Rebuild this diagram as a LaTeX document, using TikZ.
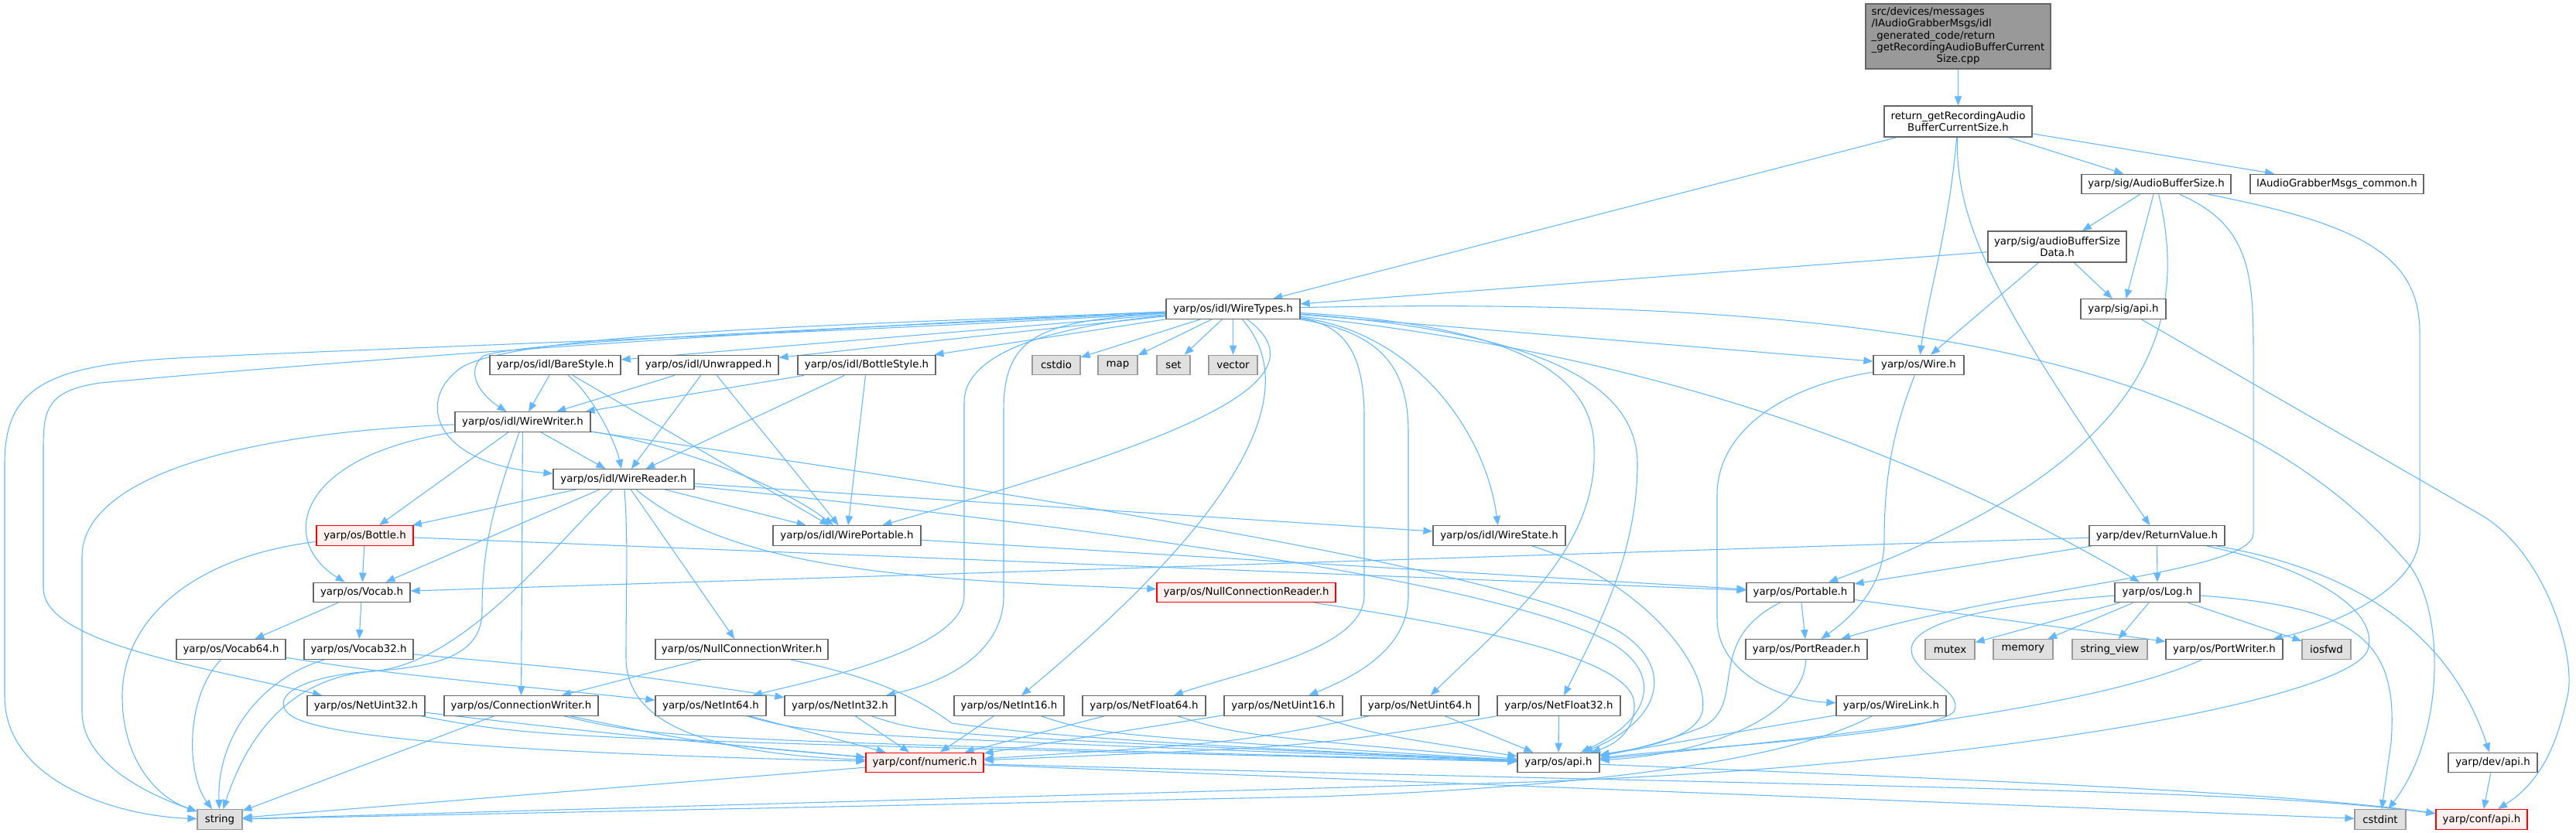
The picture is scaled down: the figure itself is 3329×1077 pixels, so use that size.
\documentclass[tikz,border=0pt]{standalone}
\usepackage{fontspec}
\setmainfont{DejaVu Sans}
\usetikzlibrary{arrows.meta}
\definecolor{edgec}{HTML}{63B8FF}
\definecolor{bord}{HTML}{666666}
\definecolor{extb}{HTML}{999999}
\definecolor{extf}{HTML}{E0E0E0}
\definecolor{redf}{HTML}{FFF0F0}
\definecolor{topf}{HTML}{999999}
\pgfdeclarelayer{back}
\pgfdeclarelayer{edges}
\pgfsetlayers{back,edges,main}
\newcommand{\nodefont}{\fontsize{10pt}{11.5pt}\selectfont}
\tikzset{
  nb/.style={draw=bord, fill=white, line width=0.9pt, inner sep=0pt, font=\nodefont, minimum height=19.2pt, align=center},
  extn/.style={nb, draw=extb, fill=extf},
  trn/.style={nb, draw=red, fill=redf},
  topn/.style={nb, fill=topf},
  bw/.style={minimum width=#1*0.75pt},
  bh/.style={minimum height=#1*0.75pt},
  lnk/.style={draw=edgec, line width=0.8pt, -{Triangle[length=9pt,width=7pt]}}
}
\begin{document}
\begin{tikzpicture}[x=0.75pt, y=-0.75pt]
\begin{pgfonlayer}{back}
\fill[white] (0,0) rectangle (3329,1077);
\end{pgfonlayer}
\useasboundingbox (0,0) rectangle (3329,1077);
% nodes
\node[topn, bw=239, bh=84] (top) at (2530.5,47) {\begin{tabular}{@{}l@{}}src/devices/messages\\/IAudioGrabberMsgs/idl\\\_generated\_code/return\\\_getRecordingAudioBufferCurrent\\\multicolumn{1}{@{}c@{}}{Size.cpp}\end{tabular}};
\node[nb, bw=191, bh=40] (ret) at (2530.5,157) {return\_getRecordingAudio\\BufferCurrentSize.h};
\node[nb, bw=193] (abs) at (2786.5,238) {yarp/sig/AudioBufferSize.h};
\node[nb, bw=224] (iagc) at (3020,238) {IAudioGrabberMsgs\_common.h};
\node[nb, bw=179, bh=40] (absd) at (2658.5,319) {yarp/sig/audioBufferSize\\Data.h};
\node[nb, bw=173] (wt) at (1593.5,399.5) {yarp/os/idl/WireTypes.h};
\node[nb, bw=110] (sigapi) at (2744,399.5) {yarp/sig/api.h};
\node[nb, bw=169] (bare) at (717.5,472) {yarp/os/idl/BareStyle.h};
\node[nb, bw=181] (unw) at (915.5,472) {yarp/os/idl/Unwrapped.h};
\node[nb, bw=178] (bstyle) at (1120,472) {yarp/os/idl/BottleStyle.h};
\node[extn, bw=62] (cstdio) at (1365,472) {cstdio};
\node[extn, bw=51] (map) at (1444.5,472) {map};
\node[extn, bw=43] (set) at (1516.5,472) {set};
\node[extn, bw=63] (vector) at (1593.5,472) {vector};
\node[nb, bw=117] (wire) at (2479.5,472) {yarp/os/Wire.h};
\node[nb, bw=175] (ww) at (675.5,545.5) {yarp/os/idl/WireWriter.h};
\node[nb, bw=182] (wr) at (806,619.5) {yarp/os/idl/WireReader.h};
\node[trn, bw=125] (bottle) at (471.5,692.5) {yarp/os/Bottle.h};
\node[nb, bw=191] (wp) at (1094.5,692.5) {yarp/os/idl/WirePortable.h};
\node[nb, bw=171] (ws) at (1937.5,692.5) {yarp/os/idl/WireState.h};
\node[nb, bw=175] (rv) at (2787.5,692.5) {yarp/dev/ReturnValue.h};
\node[nb, bw=125] (vocab) at (467.5,766) {yarp/os/Vocab.h};
\node[trn, bw=231] (ncr) at (1610.5,766) {yarp/os/NullConnectionReader.h};
\node[nb, bw=139] (portable) at (2326.5,766) {yarp/os/Portable.h};
\node[nb, bw=110] (log) at (2788,766) {yarp/os/Log.h};
\node[nb, bw=141] (vocab64) at (298.5,839.5) {yarp/os/Vocab64.h};
\node[nb, bw=141] (vocab32) at (463.5,839.5) {yarp/os/Vocab32.h};
\node[nb, bw=223] (ncw) at (958.5,839.5) {yarp/os/NullConnectionWriter.h};
\node[nb, bw=157] (portreader) at (2334.5,839.5) {yarp/os/PortReader.h};
\node[extn, bw=64] (mutex) at (2520,839.5) {mutex};
\node[extn, bw=77] (memory) at (2614.5,839.5) {memory};
\node[extn, bw=97] (strview) at (2726.5,839.5) {string\_view};
\node[nb, bw=151] (portwriter) at (2874.5,839.5) {yarp/os/PortWriter.h};
\node[extn, bw=63] (iosfwd) at (3006.5,839.5) {iosfwd};
\node[nb, bw=152] (netuint32) at (473,912.5) {yarp/os/NetUint32.h};
\node[nb, bw=199] (connwriter) at (673.5,912.5) {yarp/os/ConnectionWriter.h};
\node[nb, bw=143] (netint64) at (918.5,912.5) {yarp/os/NetInt64.h};
\node[nb, bw=143] (netint32) at (1085.5,912.5) {yarp/os/NetInt32.h};
\node[nb, bw=142] (netint16) at (1304,912.5) {yarp/os/NetInt16.h};
\node[nb, bw=159] (netfloat64) at (1478.5,912.5) {yarp/os/NetFloat64.h};
\node[nb, bw=153] (netuint16) at (1658.5,912.5) {yarp/os/NetUint16.h};
\node[nb, bw=152] (netuint64) at (1835,912.5) {yarp/os/NetUint64.h};
\node[nb, bw=159] (netfloat32) at (2014.5,912.5) {yarp/os/NetFloat32.h};
\node[nb, bw=142] (wirelink) at (2444,912.5) {yarp/os/WireLink.h};
\node[trn, bw=152] (numeric) at (1195,986) {yarp/conf/numeric.h};
\node[nb, bw=106] (osapi) at (2014,986) {yarp/os/api.h};
\node[nb, bw=115] (devapi) at (3221.5,986) {yarp/dev/api.h};
\node[extn, bw=58] (string) at (284,1059.5) {string};
\node[extn, bw=66] (cstdint) at (3076,1059.5) {cstdint};
\node[trn, bw=118] (confapi) at (3207,1059.5) {yarp/conf/api.h};
% edges
\begin{pgfonlayer}{edges}
\draw[lnk] (top) -- (ret);
\draw[lnk] (ret) -- (wt);
\draw[lnk] (ret) .. controls (2518,300) and (2492,380) .. (wire);
\draw[lnk] (ret) .. controls (2525,300) and (2600,420) .. (rv);
\draw[lnk] (ret) -- (abs);
\draw[lnk] (ret) -- (iagc);
\draw[lnk] (abs) -- (absd);
\draw[lnk] (abs) -- (sigapi);
\draw[lnk] (abs) .. controls (2830,420) and (2780,600) .. (portable);
\draw[lnk] (abs) .. controls (2905,290) and (2912,350) .. (2912,450) -- (2912,690) .. controls (2912,740) and (2600,760) .. (portreader);
\draw[lnk] (abs) .. controls (3050,290) and (3127,330) .. (3127,430) -- (3127,690) .. controls (3127,770) and (2990,815) .. (portwriter);
\draw[lnk] (absd) -- (wt);
\draw[lnk] (absd) -- (wire);
\draw[lnk] (absd) -- (sigapi);
\draw[lnk] (sigapi) -- (3205,665) .. controls (3290,714) and (3330,850) .. (3318,900) .. controls (3305,960) and (3285,1010) .. (confapi);
% WireTypes
\draw[lnk] (wt) .. controls (1100,430) and (500,450) .. (250,462) .. controls (60,470) and (6,500) .. (6,600) -- (6,900) .. controls (6,1010) and (150,1055) .. (string);
\draw[lnk] (wt) .. controls (1000,425) and (400,470) .. (130,495) .. controls (60,505) and (56,530) .. (56,580) -- (56,760) .. controls (56,830) and (250,860) .. (netuint32);
\draw[lnk] (wt) -- (bare);
\draw[lnk] (wt) -- (unw);
\draw[lnk] (wt) -- (bstyle);
\draw[lnk] (wt) .. controls (1100,425) and (680,440) .. (625,460) .. controls (600,480) and (620,510) .. (ww);
\draw[lnk] (wt) .. controls (1100,420) and (640,430) .. (590,480) .. controls (540,520) and (560,600) .. (wr);
\draw[lnk] (wt) .. controls (1730,500) and (1480,580) .. (wp);
\draw[lnk] (wt) -- (cstdio);
\draw[lnk] (wt) -- (map);
\draw[lnk] (wt) -- (set);
\draw[lnk] (wt) -- (vector);
\draw[lnk] (wt) -- (wire);
\draw[lnk] (wt) .. controls (1830,430) and (1920,560) .. (ws);
\draw[lnk] (wt) .. controls (2050,450) and (2400,540) .. (log);
\draw[lnk] (wt) .. controls (2500,380) and (2900,480) .. (3113,730) .. controls (3160,790) and (3160,950) .. (cstdint);
\draw[lnk] (wt) .. controls (1380,420) and (1246,450) .. (1246,520) -- (1246,770) .. controls (1246,840) and (1050,880) .. (netint64);
\draw[lnk] (wt) .. controls (1350,415) and (1297,430) .. (1297,530) -- (1297,770) .. controls (1297,840) and (1230,880) .. (netint32);
\draw[lnk] (wt) .. controls (1700,520) and (1560,700) .. (netint16);
\draw[lnk] (wt) .. controls (1740,420) and (1763,460) .. (1763,540) -- (1763,770) .. controls (1763,840) and (1600,870) .. (netfloat64);
\draw[lnk] (wt) .. controls (1790,430) and (1820,480) .. (1820,560) -- (1820,770) .. controls (1820,840) and (1750,875) .. (netuint16);
\draw[lnk] (wt) .. controls (1950,420) and (2060,480) .. (2060,580) .. controls (2065,710) and (1950,800) .. (netuint64);
\draw[lnk] (wt) .. controls (2000,430) and (2116,500) .. (2116,600) .. controls (2116,720) and (2060,820) .. (netfloat32);
% styles
\draw[lnk] (bare) -- (ww);
\draw[lnk] (bare) .. controls (765,510) and (795,570) .. (wr);
\draw[lnk] (bare) -- (wp);
\draw[lnk] (unw) -- (ww);
\draw[lnk] (unw) -- (wr);
\draw[lnk] (unw) -- (wp);
\draw[lnk] (bstyle) -- (ww);
\draw[lnk] (bstyle) -- (wr);
\draw[lnk] (bstyle) -- (wp);
% WireWriter
\draw[lnk] (ww) -- (wr);
\draw[lnk] (ww) .. controls (850,570) and (1000,620) .. (wp);
\draw[lnk] (ww) -- (bottle);
\draw[lnk] (ww) .. controls (380,590) and (360,700) .. (vocab);
\draw[lnk] (ww) .. controls (300,560) and (106,620) .. (106,720) -- (106,920) .. controls (106,990) and (200,1030) .. (string);
\draw[lnk] (ww) -- (connwriter);
\draw[lnk] (ww) .. controls (640,650) and (623,700) .. (623,790) .. controls (623,850) and (560,862) .. (480,868) .. controls (390,874) and (350,900) .. (372,922) .. controls (400,950) and (600,972) .. (numeric);
\draw[lnk] (ww) .. controls (1400,650) and (1950,740) .. (2090,815) .. controls (2165,860) and (2150,930) .. (osapi);
% WireReader
\draw[lnk] (wr) -- (bottle);
\draw[lnk] (wr) -- (vocab);
\draw[lnk] (wr) .. controls (720,700) and (600,860) .. (480,868) .. controls (400,875) and (330,920) .. (string);
\draw[lnk] (wr) .. controls (812,700) and (809,760) .. (809,850) .. controls (809,950) and (950,975) .. (numeric);
\draw[lnk] (wr) -- (ncw);
\draw[lnk] (wr) .. controls (950,740) and (1200,750) .. (ncr);
\draw[lnk] (wr) -- (ws);
\draw[lnk] (wr) -- (wp);
\draw[lnk] (wr) .. controls (1500,690) and (1950,760) .. (2080,830) .. controls (2150,870) and (2135,930) .. (osapi);
% Bottle and others
\draw[lnk] (bottle) -- (vocab);
\draw[lnk] (bottle) .. controls (250,720) and (158,800) .. (158,900) .. controls (158,980) and (200,1030) .. (string);
\draw[lnk] (bottle) -- (portable);
\draw[lnk] (wp) -- (portable);
\draw[lnk] (ws) .. controls (2120,750) and (2210,860) .. (2200,920) .. controls (2190,960) and (2100,970) .. (osapi);
% ReturnValue
\draw[lnk] (rv) -- (vocab);
\draw[lnk] (rv) -- (portable);
\draw[lnk] (rv) -- (log);
\draw[lnk] (rv) .. controls (3060,740) and (3170,830) .. (devapi);
\draw[lnk] (rv) .. controls (2990,735) and (3075,790) .. (3060,840) .. controls (3040,900) and (2600,990) .. (1950,1012) -- (string);
% Log
\draw[lnk] (log) -- (mutex);
\draw[lnk] (log) -- (memory);
\draw[lnk] (log) -- (strview);
\draw[lnk] (log) -- (iosfwd);
\draw[lnk] (log) .. controls (3050,785) and (3100,830) .. (3090,960) -- (cstdint);
\draw[lnk] (log) .. controls (2600,780) and (2470,800) .. (2470,840) .. controls (2470,870) and (2540,895) .. (2525,920) .. controls (2500,950) and (2200,965) .. (osapi);
% Portable family
\draw[lnk] (portable) -- (portreader);
\draw[lnk] (portable) -- (portwriter);
\draw[lnk] (portable) .. controls (2200,830) and (2260,910) .. (2200,940) .. controls (2150,960) and (2100,972) .. (osapi);
\draw[lnk] (portreader) .. controls (2330,930) and (2200,975) .. (osapi);
\draw[lnk] (portwriter) .. controls (2700,920) and (2300,960) .. (osapi);
% Wire
\draw[lnk] (wire) .. controls (2445,560) and (2435,620) .. (2435,700) .. controls (2435,760) and (2390,800) .. (portreader);
\draw[lnk] (wire) .. controls (2300,500) and (2219,560) .. (2219,640) -- (2219,800) .. controls (2219,870) and (2300,905) .. (wirelink);
\draw[lnk] (wirelink) -- (osapi);
\draw[lnk] (wirelink) .. controls (2300,990) and (2000,1020) .. (1700,1030) -- (string);
% Vocab
\draw[lnk] (vocab) -- (vocab64);
\draw[lnk] (vocab) -- (vocab32);
\draw[lnk] (vocab64) .. controls (240,900) and (240,1000) .. (string);
\draw[lnk] (vocab64) .. controls (500,870) .. (netint64);
\draw[lnk] (vocab32) .. controls (330,880) and (280,960) .. (string);
\draw[lnk] (vocab32) .. controls (800,870) .. (netint32);
% Net row
\draw[lnk] (netuint32) .. controls (800,950) .. (numeric);
\draw[lnk] (netuint32) .. controls (700,955) .. (osapi);
\draw[lnk] (connwriter) -- (string);
\draw[lnk] (connwriter) .. controls (900,960) .. (numeric);
\draw[lnk] (connwriter) .. controls (850,955) .. (osapi);
\draw[lnk] (ncw) -- (connwriter);
\draw[lnk] (ncw) .. controls (1150,880) and (1195,910) .. (1230,935) .. controls (1400,960) and (1800,975) .. (osapi);
\draw[lnk] (ncr) .. controls (1900,810) and (2110,850) .. (2112,910) .. controls (2113,950) and (2080,965) .. (osapi);
\draw[lnk] (netint64) -- (numeric);
\draw[lnk] (netint64) .. controls (1050,950) .. (osapi);
\draw[lnk] (netint32) -- (numeric);
\draw[lnk] (netint32) .. controls (1200,950) .. (osapi);
\draw[lnk] (netint16) -- (numeric);
\draw[lnk] (netint16) .. controls (1420,950) .. (osapi);
\draw[lnk] (netfloat64) -- (numeric);
\draw[lnk] (netfloat64) .. controls (1600,950) .. (osapi);
\draw[lnk] (netuint16) -- (numeric);
\draw[lnk] (netuint16) .. controls (1780,950) .. (osapi);
\draw[lnk] (netuint64) .. controls (1600,960) .. (numeric);
\draw[lnk] (netuint64) -- (osapi);
\draw[lnk] (netfloat32) .. controls (1700,965) .. (numeric);
\draw[lnk] (netfloat32) -- (osapi);
% bottom
\draw[lnk] (numeric) -- (string);
\draw[lnk] (numeric) -- (cstdint);
\draw[lnk] (numeric) .. controls (2500,1020) and (2900,1020) .. (confapi);
\draw[lnk] (osapi) .. controls (2600,1010) and (2950,1025) .. (confapi);
\draw[lnk] (devapi) -- (confapi);
\end{pgfonlayer}
\end{tikzpicture}
\end{document}
